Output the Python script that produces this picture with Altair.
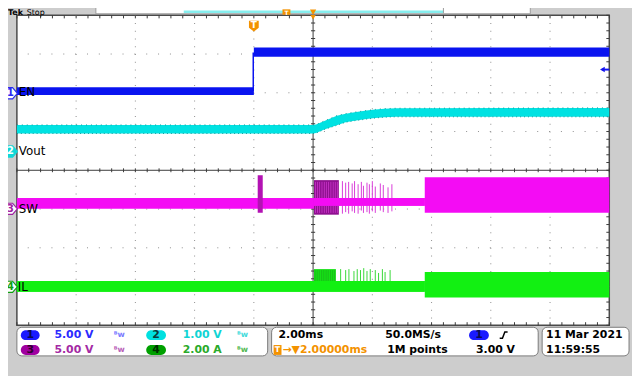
import altair as alt
import numpy as np
import pandas as pd

# ---------------- data read from the scope screen ----------------
# channel settings: units per division and ground-marker position (divisions from centre)
ch_names = ["EN", "Vout", "SW", "IL"]
ch_scale = [5.0, 1.0, 5.0, 2.0]
ch_pos = [2.0, 0.46, -1.0, -3.0]

# CH1 EN (V): two noise bands and the rising edge
en_t0 = [-8.0, 0.0]
en_t1 = [0.0, 12.0]
en_lo = [-0.3, 4.65]
en_hi = [0.7, 5.85]
en_edge_t = [-0.02]

# CH2 Vout (V): envelope of the ripple band
vout_t = [-8.0, 2.0, 2.1, 2.4, 2.8, 3.1, 3.4, 3.8, 4.1, 4.4, 4.8, 12.0]
vout_lo = [0.49, 0.49, 0.50, 0.60, 0.70, 0.78, 0.82, 0.86, 0.89, 0.91, 0.92, 0.92]
vout_hi = [0.71, 0.71, 0.72, 0.82, 0.95, 1.00, 1.04, 1.08, 1.11, 1.13, 1.14, 1.15]

# CH3 SW (V): band segments
sw_t0 = [-8.0, 0.13, 2.03, 2.03, 5.77]
sw_t1 = [2.03, 0.30, 2.87, 5.77, 12.0]
sw_lo = [0.03, -0.48, -0.73, 0.41, -0.48]
sw_hi = [1.43, 4.36, 3.73, 1.43, 4.11]
sw_kind = ["base", "spike", "burst", "base", "base"]
# CH3 SW: isolated switching pulses after the burst
sw_pulse_t = [2.99, 3.10, 3.20, 3.32, 3.40, 3.52, 3.63, 3.70, 3.82, 3.90, 4.00, 4.10, 4.27, 4.37, 4.53, 4.66]
sw_pulse_hi = [3.6, 3.4, 3.5, 3.3, 3.6, 3.2, 3.5, 3.0, 3.4, 3.2, 3.6, 2.9, 3.3, 3.1, 2.8, 3.2]
sw_pulse_lo = [-0.6, -0.4, -0.6, -0.3, -0.5, -0.6, -0.2, -0.5, -0.4, -0.6, -0.3, -0.5, -0.2, -0.4, -0.5, -0.3]
# pulses inside the dense burst (lighter lines)
sw_burst_t = [2.08, 2.15, 2.22, 2.30, 2.38, 2.45, 2.52, 2.60, 2.68, 2.75, 2.82]

# CH4 IL (A): band segments
il_t0 = [-8.0, 2.03, 5.77]
il_t1 = [5.77, 2.77, 12.0]
il_lo = [-0.27, 0.14, -0.57]
il_hi = [0.29, 0.90, 0.75]
il_kind = ["base", "burst", "base"]
il_pulse_t = [2.93, 3.10, 3.21, 3.38, 3.49, 3.60, 3.71, 3.82, 3.93, 4.10, 4.21, 4.34, 4.43, 4.60]
il_pulse_hi = [0.9, 0.85, 0.9, 0.8, 0.9, 0.85, 0.95, 0.8, 0.9, 0.85, 0.7, 0.9, 0.75, 0.85]
il_burst_t = [2.07, 2.14, 2.21, 2.29, 2.36, 2.44, 2.51, 2.59, 2.66, 2.73]

# graticule: 10 x 2 ms horizontally, 8 divisions vertically
grid_t = [-6, -4, -2, 0, 4, 6, 8, 10]
grid_d = [-3, -2, -1, 1, 2, 3]
centre_t = 2.0

# ---------------- helpers ----------------
S = dict(zip(ch_names, ch_scale))
P = dict(zip(ch_names, ch_pos))


def to_div(ch, v):
    return [P[ch] + x / S[ch] for x in v]


xs = alt.Scale(domain=[-8, 12], nice=False, zero=False)
ys = alt.Scale(domain=[-4, 4], nice=False, zero=False)
FONT = "DejaVu Sans"
ONE = pd.DataFrame({"k": [0]})
OX, OY = 17, 13  # screen position of the graticule's top-left corner


def X(f):
    return alt.X(f, type="quantitative", scale=xs, axis=None)


def Y(f):
    return alt.Y(f, type="quantitative", scale=ys, axis=None)


def pv(x, y):
    return dict(x=alt.value(x - OX), y=alt.value(y - OY))


def label(s, x, y, color="black", size=11, weight="bold", align="left", baseline="middle"):
    return alt.Chart(ONE).mark_text(text=s, align=align, baseline=baseline, color=color,
                                    fontSize=size, fontWeight=weight, font=FONT).encode(**pv(x, y))


def box(x1, y1, x2, y2, fill, stroke=None, r=0, sw=1.0):
    kw = dict(fill=fill, cornerRadius=r)
    if stroke:
        kw.update(stroke=stroke, strokeWidth=sw)
    return alt.Chart(ONE).mark_rect(**kw).encode(
        x=alt.value(x1 - OX), x2=alt.value(x2 - OX), y=alt.value(y1 - OY), y2=alt.value(y2 - OY))


def sym(shape, x, y, size, fill, stroke=None, sw=1.0):
    kw = dict(shape=shape, size=size, fill=fill, opacity=1, fillOpacity=1)
    if stroke:
        kw.update(stroke=stroke, strokeWidth=sw, strokeOpacity=1)
    else:
        kw.update(strokeWidth=0)
    return alt.Chart(ONE).mark_point(**kw).encode(**pv(x, y))


def hline(x1, x2, y, color, w=1.0):
    return alt.Chart(ONE).mark_rule(color=color, strokeWidth=w).encode(
        x=alt.value(x1 - OX), x2=alt.value(x2 - OX), y=alt.value(y - OY))


def vline(x, y1, y2, color, w=1.0):
    return alt.Chart(ONE).mark_rule(color=color, strokeWidth=w).encode(
        x=alt.value(x - OX), y=alt.value(y1 - OY), y2=alt.value(y2 - OY))


layers = []

# ---------------- graticule ----------------
gt = pd.DataFrame({"t": grid_t})
gd = pd.DataFrame({"d": grid_d})
layers.append(alt.Chart(gt).mark_rule(color="#8c8c8c", strokeDash=[1, 6.85], strokeWidth=1).encode(x=X("t")))
layers.append(alt.Chart(gd).mark_rule(color="#8c8c8c", strokeDash=[1, 11], strokeWidth=1).encode(y=Y("d")))
layers.append(alt.Chart(pd.DataFrame({"t": [centre_t]})).mark_rule(color="#3a3a3a", strokeWidth=1).encode(x=X("t")))
layers.append(alt.Chart(pd.DataFrame({"d": [0]})).mark_rule(color="#3a3a3a", strokeWidth=1).encode(y=Y("d")))

mt = np.round(np.arange(-8, 12.001, 0.4), 3)
md = np.round(np.arange(-4, 4.001, 0.2), 3)
tick_h = pd.concat([
    pd.DataFrame({"t": mt, "a": 4.0, "b": 3.92}),
    pd.DataFrame({"t": mt, "a": -4.0, "b": -3.92}),
    pd.DataFrame({"t": mt, "a": -0.05, "b": 0.05}),
])
tick_v = pd.concat([
    pd.DataFrame({"d": md, "a": centre_t - 0.07, "b": centre_t + 0.07}),
    pd.DataFrame({"d": md, "a": 11.9, "b": 12.0}),
])
layers.append(alt.Chart(tick_h).mark_rule(color="#3a3a3a", strokeWidth=1).encode(x=X("t"), y=Y("a"), y2="b"))
layers.append(alt.Chart(tick_v).mark_rule(color="#3a3a3a", strokeWidth=1).encode(y=Y("d"), x=X("a"), x2="b"))

# ---------------- traces ----------------
# CH2 Vout
vdf = pd.DataFrame({"t": vout_t, "lo": to_div("Vout", vout_lo), "hi": to_div("Vout", vout_hi)})
layers.append(alt.Chart(vdf).mark_area(color="#00e2e2", opacity=1).encode(x=X("t"), y=Y("lo"), y2="hi"))
layers.append(alt.Chart(vdf).mark_line(color="#119a9a", strokeWidth=1, strokeDash=[1, 3]).encode(x=X("t"), y=Y("lo")))
layers.append(alt.Chart(vdf).mark_line(color="#119a9a", strokeWidth=1, strokeDash=[1, 4]).encode(x=X("t"), y=Y("hi")))

# CH1 EN
edf = pd.DataFrame({"t0": en_t0, "t1": en_t1, "lo": to_div("EN", en_lo), "hi": to_div("EN", en_hi)})
layers.append(alt.Chart(edf).mark_rect(color="#0a14f0").encode(x=X("t0"), x2="t1", y=Y("lo"), y2="hi"))
layers.append(alt.Chart(pd.DataFrame({"t": en_edge_t, "a": to_div("EN", [0.2]), "b": to_div("EN", [5.2])}))
              .mark_rule(color="#0a14f0", strokeWidth=1.5).encode(x=X("t"), y=Y("a"), y2="b"))

# CH3 SW
sdf = pd.DataFrame({"t0": sw_t0, "t1": sw_t1, "lo": to_div("SW", sw_lo), "hi": to_div("SW", sw_hi), "kind": sw_kind})
sw_col = alt.Scale(domain=["base", "spike", "burst"], range=["#f40cf4", "#b312b3", "#8f1090"])
layers.append(alt.Chart(sdf).mark_rect().encode(x=X("t0"), x2="t1", y=Y("lo"), y2="hi",
                                                color=alt.Color("kind:N", scale=sw_col, legend=None)))
sbdf = pd.DataFrame({"t": sw_burst_t, "lo": to_div("SW", [-0.5] * len(sw_burst_t)), "hi": to_div("SW", [3.5] * len(sw_burst_t))})
layers.append(alt.Chart(sbdf).mark_rule(color="#c030c0", strokeWidth=1).encode(x=X("t"), y=Y("lo"), y2="hi"))
spdf = pd.DataFrame({"t": sw_pulse_t, "lo": to_div("SW", sw_pulse_lo), "hi": to_div("SW", sw_pulse_hi)})
layers.append(alt.Chart(spdf).mark_rule(color="#d83cd8", strokeWidth=1).encode(x=X("t"), y=Y("lo"), y2="hi"))
layers.append(alt.Chart(sdf.iloc[[3]]).mark_rect(color="#f40cf4").encode(x=X("t0"), x2="t1", y=Y("lo"), y2="hi"))

# CH4 IL
idf = pd.DataFrame({"t0": il_t0, "t1": il_t1, "lo": to_div("IL", il_lo), "hi": to_div("IL", il_hi), "kind": il_kind})
il_col = alt.Scale(domain=["base", "burst"], range=["#12f012", "#16e016"])
layers.append(alt.Chart(idf).mark_rect().encode(x=X("t0"), x2="t1", y=Y("lo"), y2="hi",
                                                color=alt.Color("kind:N", scale=il_col, legend=None)))
ibdf = pd.DataFrame({"t": il_burst_t, "lo": to_div("IL", [0.2] * len(il_burst_t)), "hi": to_div("IL", [0.85] * len(il_burst_t))})
layers.append(alt.Chart(ibdf).mark_rule(color="#1aa81a", strokeWidth=1, opacity=0.6).encode(x=X("t"), y=Y("lo"), y2="hi"))
ipdf = pd.DataFrame({"t": il_pulse_t, "lo": to_div("IL", [0.1] * len(il_pulse_t)), "hi": to_div("IL", il_pulse_hi)})
layers.append(alt.Chart(ipdf).mark_rule(color="#38d838", strokeWidth=1).encode(x=X("t"), y=Y("lo"), y2="hi"))
layers.append(alt.Chart(idf.iloc[[0]]).mark_rect(color="#12f012").encode(x=X("t0"), x2="t1", y=Y("lo"), y2="hi"))

# ---------------- scope chrome ----------------
ORANGE = "#f39200"
TAG = "M -1 -0.75 L 0.35 -0.75 L 1 0 L 0.35 0.75 L -1 0.75 Z"
SHIELD = "M -0.9 -1 L 0.9 -1 L 0.9 0.3 L 0 1 L -0.9 0.3 Z"
EDGE = "M -1 0.8 L -0.3 0.8 L 0.3 -0.8 L 1 -0.8"

# top bar (squeezed into the strip above the graticule)
layers += [
    box(97, -1, 537, 11.5, "white", "#9a9a9a"),
    hline(186, 449, 9.5, "#86eeee", 2.5),
    vline(449, 0, 11, "#9a9a9a"),
    label("Tek", 8, 12.5, "black", 8, "bold", baseline="alphabetic"),
    label("Stop", 27, 12.5, "black", 8, "normal", baseline="alphabetic"),
    box(286, 7, 294, 12.5, ORANGE),
    label("T", 290, 12.3, "white", 6, "bold", "center", baseline="alphabetic"),
    sym("triangle-down", 317, 10, 40, ORANGE),
    sym("triangle-down", 317, 15, 30, ORANGE),
    sym(SHIELD, 257, 24, 121, ORANGE),
    label("T", 257, 23, "white", 9, "bold", "center"),
    sym("triangle-left", 610, 68, 30, "#1414f0"),
    hline(610, 617, 68, "#1414f0", 2),
]

# channel markers and names
layers += [
    sym(TAG, 10, 92, 225, "white", "#2a2af0", 1.2), label("1", 10.5, 92, "#2a2af0", 10, "bold", "center"),
    sym(TAG, 10, 151, 225, "#10d8d8", "#10d8d8", 1.2), label("2", 10.5, 151, "white", 10, "bold", "center"),
    sym(TAG, 10, 209, 225, "white", "#a020a0", 1.2), label("3", 10.5, 209, "#a020a0", 10, "bold", "center"),
    sym(TAG, 10, 288, 225, "white", "#10a010", 1.2), label("4", 10.5, 288, "#10a010", 10, "bold", "center"),
    label("EN", 19, 91, "black", 12, "normal"),
    label("Vout", 19, 151, "black", 12, "normal"),
    label("SW", 19, 209, "black", 12, "normal"),
    label("IL", 18, 288, "black", 12, "normal"),
]


def bw(x, y, color):
    return [label("ᴮw", x, y, color, 8, "bold")]


# bottom panels
R1, R2 = 337, 352
layers += [
    box(17, 329, 271, 358, "white", "#7a7a7a", 5),
    box(275, 329, 545, 358, "white", "#7a7a7a", 5),
    box(549, 329, 637, 358, "white", "#7a7a7a", 5),
    box(21, 332, 40, 342, "#1a1aff", r=5), label("1", 30.5, R1, "#0a0a55", 11, "bold", "center"),
    label("5.00 V", 55, R1, "#2b2bff"),
    box(148, 332, 168, 342, "#00e0e0", r=5), label("2", 158, R1, "#0a3a3a", 11, "bold", "center"),
    label("1.00 V", 185, R1, "#10d4d4"),
    box(21, 347, 40, 357, "#a000a0", r=5), label("3", 30.5, R2, "#300030", 11, "bold", "center"),
    label("5.00 V", 55, R2, "#a42aa4"),
    box(148, 347, 168, 357, "#00a000", r=5), label("4", 158, R2, "#003000", 11, "bold", "center"),
    label("2.00 A", 185, R2, "#2aaa2a"),
] + bw(115, R1, "#7a7aff") + bw(240, R1, "#40dada") + bw(115, R2, "#b860b8") + bw(240, R2, "#50b850")

layers += [
    label("2.00ms", 282, R1),
    label("50.0MS/s", 390, R1),
    box(475, 332, 495, 342, "#1a1aff", r=5), label("1", 485, R1, "#0a0a55", 11, "bold", "center"),
    alt.Chart(ONE).mark_point(shape=EDGE, size=64, filled=False, color="black", strokeWidth=1.5, opacity=1)
    .encode(**pv(510, R1)),
    box(277, 347, 285, 357, ORANGE), label("T", 281, R2, "white", 8, "bold", "center"),
    label("→▼2.00000ms", 286, R2, ORANGE),
    label("1M points", 392, R2),
    label("3.00 V", 482, R2),
    label("11 Mar 2021", 553, R1),
    label("11:59:55", 553, R2),
]

chart = (
    alt.layer(*layers)
    .resolve_scale(color="independent")
    .properties(width=600, height=314, autosize="none",
                padding={"left": 9, "top": 5, "right": 23, "bottom": 49},
                background="#cdcdcd")
    .configure_view(fill="white", stroke="#4a4a4a", strokeWidth=1.5)
)

chart.save("out.html", embed_options={"renderer": "svg", "actions": False})
